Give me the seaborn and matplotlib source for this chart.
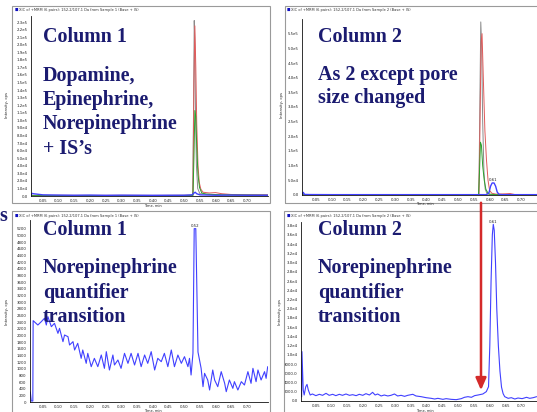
import matplotlib
matplotlib.use('Agg')
import matplotlib.pyplot as plt
from matplotlib.patches import Rectangle, FancyArrowPatch
from matplotlib.ticker import FixedLocator, FuncFormatter
import numpy as np
import seaborn as sns

W, H = 537, 412

# ==================== data ====================
# time in min, intensity in cps
x_ticks = [0.05, 0.10, 0.15, 0.20, 0.25, 0.30, 0.35, 0.40, 0.45, 0.50, 0.55, 0.60, 0.65, 0.70]
x_tick_labels = ['0.05', '0.10', '0.15', '0.20', '0.25', '0.30', '0.35',
                 '0.40', '0.45', '0.50', '0.55', '0.60', '0.65', '0.70']

# Column 1, all analytes + IS
c1_gray_t = [0.012, 0.200, 0.400, 0.527, 0.530, 0.532, 0.534, 0.536, 0.539, 0.543, 0.550, 0.600, 0.766]
c1_gray_v = [600, 600, 600, 800, 120000, 232000, 200000, 110000, 40000, 10000, 3000, 1500, 1000]
c1_red_t = [0.012, 0.100, 0.200, 0.300, 0.400, 0.500, 0.528, 0.531, 0.534, 0.537, 0.540,
            0.544, 0.548, 0.553, 0.560, 0.580, 0.600, 0.620, 0.650, 0.700, 0.766]
c1_red_v = [800, 900, 800, 900, 800, 900, 1200, 150000, 225000, 170000, 95000,
            40000, 18000, 9000, 5000, 4000, 4500, 3000, 2000, 1500, 1500]
c1_green_t = [0.012, 0.300, 0.528, 0.531, 0.534, 0.537, 0.540, 0.544, 0.549, 0.556, 0.570, 0.620, 0.766]
c1_green_v = [500, 500, 800, 50000, 113000, 105000, 65000, 28000, 11000, 4000, 2500, 1500, 1000]
c1_blue_t = [0.012, 0.015, 0.020, 0.030, 0.040, 0.050, 0.100, 0.150, 0.200, 0.250, 0.300, 0.350,
             0.400, 0.450, 0.500, 0.525, 0.530, 0.535, 0.540, 0.550, 0.600, 0.650, 0.700, 0.766]
c1_blue_v = [500, 3500, 3000, 2500, 2000, 1500, 1200, 1000, 1200, 900, 1100, 1000,
             900, 1000, 1000, 1500, 3500, 5000, 3000, 1500, 1000, 1200, 1000, 1000]

# Column 2, all analytes + IS
c2_gray_t = [0.006, 0.200, 0.400, 0.560, 0.566, 0.569, 0.572, 0.575, 0.578, 0.582, 0.586, 0.592, 0.600, 0.750]
c2_gray_v = [1000, 800, 800, 1000, 2000, 300000, 590000, 500000, 250000, 80000, 20000, 4000, 1000, 800]
c2_red_t = [0.006, 0.300, 0.560, 0.566, 0.569, 0.573, 0.576, 0.580, 0.585, 0.590,
            0.595, 0.600, 0.607, 0.620, 0.650, 0.665, 0.680, 0.750]
c2_red_v = [800, 800, 1000, 1500, 200000, 520000, 550000, 400000, 220000, 120000,
            50000, 15000, 6000, 3000, 4000, 5000, 1500, 1000]
c2_green_t = [0.006, 0.300, 0.560, 0.565, 0.568, 0.571, 0.574, 0.578, 0.583, 0.588, 0.594, 0.600, 0.620, 0.750]
c2_green_v = [600, 600, 800, 1000, 80000, 180000, 170000, 100000, 50000, 20000, 8000, 3000, 1000, 800]
c2_blue_t = [0.006, 0.010, 0.014, 0.030, 0.100, 0.200, 0.300, 0.400, 0.500, 0.590,
             0.598, 0.603, 0.608, 0.614, 0.619, 0.624, 0.630, 0.640, 0.700, 0.750]
c2_blue_v = [2000, 9000, 2000, 1500, 1200, 1200, 1200, 1200, 1200, 1200,
             8000, 30000, 41000, 41000, 30000, 10000, 2000, 1200, 1200, 1200]

# Column 1, norepinephrine quantifier
c1_nor_t = [0.010, 0.013, 0.018, 0.019, 0.034, 0.045, 0.055, 0.061, 0.066, 0.077,
            0.087, 0.098, 0.103, 0.114, 0.119, 0.130, 0.135, 0.146, 0.151, 0.161,
            0.172, 0.177, 0.188, 0.193, 0.204, 0.214, 0.225, 0.236, 0.246, 0.252,
            0.262, 0.273, 0.278, 0.289, 0.299, 0.310, 0.321, 0.331, 0.342, 0.353,
            0.363, 0.374, 0.384, 0.395, 0.406, 0.416, 0.427, 0.437, 0.448, 0.459,
            0.469, 0.480, 0.491, 0.501, 0.512, 0.517, 0.522, 0.528, 0.532, 0.537,
            0.544, 0.554, 0.560, 0.565, 0.575, 0.581, 0.591, 0.597, 0.607, 0.618,
            0.629, 0.634, 0.644, 0.655, 0.660, 0.671, 0.682, 0.692, 0.703, 0.713,
            0.719, 0.729, 0.735, 0.745, 0.756, 0.761, 0.766]
c1_nor_v = [300, 30, 30, 2440, 2310, 2410, 2510, 2310, 2560, 2260,
            2360, 2060, 2210, 1810, 2010, 1960, 1710, 1810, 1560, 1760,
            1310, 1560, 1160, 1460, 1060, 1310, 1060, 1410, 1010, 1510,
            960, 1410, 1110, 1260, 1010, 1460, 1160, 1460, 1110, 1460,
            1060, 1410, 1160, 1510, 960, 1310, 1210, 1460, 1060, 1560,
            1060, 1410, 1160, 1360, 1060, 1310, 810, 1460, 5200, 5200,
            1500, 1010, 460, 860, 660, 360, 960, 660, 460, 910,
            560, 310, 660, 410, 610, 360, 610, 510, 910, 560,
            1010, 610, 960, 660, 910, 710, 1060]

# Column 2, norepinephrine quantifier
c2_nor_t = [0.006, 0.007, 0.011, 0.014, 0.019, 0.023, 0.027, 0.033, 0.040, 0.051,
            0.062, 0.072, 0.083, 0.093, 0.104, 0.114, 0.125, 0.135, 0.146, 0.157,
            0.167, 0.178, 0.188, 0.199, 0.209, 0.220, 0.230, 0.238, 0.246, 0.257,
            0.267, 0.278, 0.288, 0.299, 0.309, 0.320, 0.331, 0.341, 0.357, 0.367,
            0.383, 0.399, 0.415, 0.426, 0.436, 0.452, 0.462, 0.478, 0.494, 0.510,
            0.520, 0.531, 0.542, 0.552, 0.563, 0.578, 0.589, 0.596, 0.600, 0.604,
            0.608, 0.611, 0.614, 0.618, 0.622, 0.627, 0.632, 0.637, 0.642, 0.647,
            0.658, 0.668, 0.679, 0.689, 0.702, 0.716, 0.726, 0.737, 0.748]
c2_nor_v = [900, 10700, 2400, 1300, 3100, 3600, 2400, 1300, 1520, 1160,
            1450, 1230, 1660, 1230, 1450, 1160, 1450, 1230, 1520, 1230,
            1370, 1160, 1450, 1230, 1590, 1300, 1880, 1300, 1520, 1090,
            1300, 1090, 1230, 1520, 1090, 1230, 1010, 1230, 1450, 1090,
            940, 720, 580, 430, 580, 360, 510, 360, 290, 510,
            800, 940, 800, 1160, 1300, 1520, 2030, 3100, 12000, 26000,
            36000, 38300, 37000, 30000, 20000, 12000, 6500, 3000, 1600, 940,
            580, 720, 430, 650, 510, 800, 580, 720, 940]

header_1 = 'XIC of +MRM (6 pairs): 152.2/107.1 Da from Sample 1 (Base + IS)'
header_2 = 'XIC of +MRM (6 pairs): 152.2/107.1 Da from Sample 2 (Base + IS)'

NAVY = '#1b1b70'
GRAY = '#8a8a8a'
RED = '#e05a5a'
GREEN = '#2ca02c'
BLUE = '#4040ff'


def sci_label(v, pos=None):
    if v == 0:
        return '0.0'
    m, e = f'{v:.1e}'.split('e')
    return f'{m}e{int(e)}'


def p4_label(v, pos=None):
    if v < 1e4:
        return f'{v:.1f}'
    return sci_label(v)


def px_axes(fig, l, t, r, b):
    return fig.add_axes([l / W, 1 - b / H, (r - l) / W, (b - t) / H])


def fig_text(fig, x, y, s, **kw):
    fig.text(x / W, 1 - y / H, s, **kw)


def style_axis(ax, xlim, ylim, yticks, yfmt):
    ax.set_xlim(*xlim)
    ax.set_ylim(*ylim)
    ax.xaxis.set_major_locator(FixedLocator(x_ticks))
    ax.set_xticklabels(x_tick_labels)
    ax.yaxis.set_major_locator(FixedLocator(yticks))
    ax.yaxis.set_major_formatter(FuncFormatter(yfmt))
    ax.tick_params(labelsize=2.8, length=1.5, width=0.4, pad=1, colors='#222222')
    for side in ['top', 'right']:
        ax.spines[side].set_visible(False)
    for side in ['left', 'bottom']:
        ax.spines[side].set_linewidth(0.6)
        ax.spines[side].set_color('#111111')
    ax.set_xlabel('')
    ax.set_ylabel('')
    ax.patch.set_alpha(0)


def trace(ax, t, v, color, lw=0.7):
    sns.lineplot(x=t, y=v, ax=ax, color=color, linewidth=lw, estimator=None, sort=False)


sns.set_theme(style='white')
plt.rcParams['font.family'] = ['DejaVu Sans']

fig = plt.figure(figsize=(W / 100, H / 100), dpi=100)
fig.patch.set_facecolor('white')

# panel frames
for l, t, r, b in [(12, 6, 270, 203), (285, 6, 545, 203), (12, 211, 270, 418), (284, 211, 545, 418)]:
    fig.patches.append(Rectangle((l / W, 1 - b / H), (r - l) / W, (b - t) / H,
                                 transform=fig.transFigure, fill=False,
                                 edgecolor='#9a9a9a', linewidth=0.8))

# ---- top left: column 1, all transitions ----
ax1 = px_axes(fig, 31, 16, 268, 196)
trace(ax1, c1_gray_t, c1_gray_v, GRAY)
trace(ax1, c1_red_t, c1_red_v, RED)
trace(ax1, c1_green_t, c1_green_v, GREEN)
trace(ax1, c1_blue_t, c1_blue_v, BLUE, lw=1.0)
style_axis(ax1, (0.012, 0.767), (0, 2.38e5), np.arange(0, 2.31e5, 1e4), sci_label)

# ---- top right: column 2, all transitions ----
ax2 = px_axes(fig, 302, 19, 537, 195)
trace(ax2, c2_gray_t, c2_gray_v, GRAY)
trace(ax2, c2_red_t, c2_red_v, RED)
trace(ax2, c2_green_t, c2_green_v, GREEN)
trace(ax2, c2_blue_t, c2_blue_v, BLUE, lw=1.0)
style_axis(ax2, (0.006, 0.750), (0, 6.0e5), np.arange(0, 5.51e5, 5e4), sci_label)
ax2.text(0.610, 43000, '0.61', fontsize=2.8, ha='center', va='bottom', color='#222222')

# ---- bottom left: column 1, norepinephrine ----
ax3 = px_axes(fig, 30, 220, 268, 402)
trace(ax3, c1_nor_t, c1_nor_v, BLUE, lw=0.8)
style_axis(ax3, (0.009, 0.767), (0, 5460), np.arange(0, 5201, 200), lambda v, p: f'{int(v)}')
ax3.text(0.534, 5230, '0.52', fontsize=2.8, ha='center', va='bottom', color='#222222')

# ---- bottom right: column 2, norepinephrine ----
ax4 = px_axes(fig, 301, 222, 537, 401)
trace(ax4, c2_nor_t, c2_nor_v, BLUE, lw=0.8)
style_axis(ax4, (0.004, 0.749), (0, 38800), np.arange(0, 38001, 2000), p4_label)
ax4.text(0.611, 38400, '0.61', fontsize=2.8, ha='center', va='bottom', color='#222222')

# headers, axis titles
for x, y, s in [(15, 10, header_1), (287, 10, header_2), (15, 216, header_1), (287, 216, header_2)]:
    fig_text(fig, x, y, '\u25A0', fontsize=2.6, color='#1010c0', va='center')
    fig_text(fig, x + 4, y, s, fontsize=2.6, color='#333333', va='center')
for x, y in [(7, 105), (282, 105), (7, 312), (280, 312)]:
    fig_text(fig, x, y, 'Intensity, cps', fontsize=2.8, rotation=90, ha='center', va='center', color='#222222')
for x, y in [(153, 205.5), (425, 204.5), (153, 410.5), (425, 410.5)]:
    fig_text(fig, x, y, 'Time, min', fontsize=2.5, ha='center', va='center', color='#222222')

# overlay captions
big = dict(fontsize=14.4, fontweight='bold', color=NAVY, family=['Liberation Serif', 'DejaVu Serif'],
           va='baseline', ha='left')
for y, s in [(41.5, 'Column 1'), (81.5, 'Dopamine,'), (104.5, 'Epinephrine,'),
             (128.5, 'Norepinephrine'), (153.5, '+ IS\u2019s')]:
    fig_text(fig, 43, y, s, **big)
for y, s in [(41.5, 'Column 2'), (80, 'As 2 except pore'), (103, 'size changed')]:
    fig_text(fig, 318, y, s, **big)
for x in [43, 318]:
    for y, s in [(235, 'Column ' + ('1' if x < 200 else '2')), (273, 'Norepinephrine'),
                 (298, 'quantifier'), (322, 'transition')]:
        fig_text(fig, x, y, s, **big)
fig_text(fig, -1, 221, 's', **big)

# red arrow marking the column 2 elution time
fig.patches.append(FancyArrowPatch((481 / W, 1 - 200 / H), (481 / W, 1 - 393 / H),
                                   transform=fig.transFigure,
                                   arrowstyle='-|>,head_length=0.8,head_width=0.35',
                                   mutation_scale=9, linewidth=1.8, color='#d42a2a'))

fig.savefig('out.png', dpi=100)
